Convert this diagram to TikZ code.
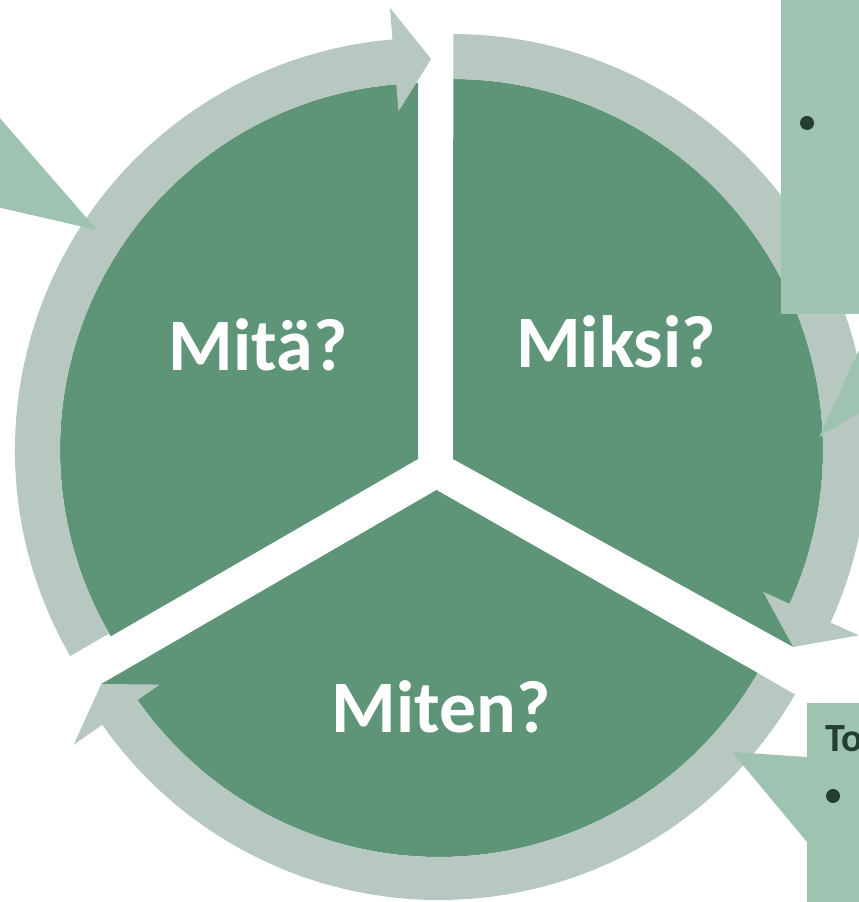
\documentclass[tikz,border=0pt]{standalone}
\usepackage{xcolor}
\usepackage{fontspec}
\setmainfont{Carlito}
\usepackage{tikz}
\usetikzlibrary{calc}

\definecolor{piegreen}{RGB}{94,149,121}
\definecolor{ringgrey}{RGB}{182,200,191}
\definecolor{calloutgreen}{RGB}{159,195,177}
\definecolor{inkdark}{RGB}{36,62,48}

\begin{document}
\begin{tikzpicture}[x=1pt, y=1pt,
  pie/.style={fill=piegreen},
  ring/.style={fill=ringgrey},
  callout/.style={fill=calloutgreen},
  piefont/.style={font=\fontsize{74}{80}\selectfont\bfseries, text=white, inner sep=0pt, anchor=base},
  bulletdot/.style={circle, fill=inkdark, inner sep=0pt, minimum size=14pt}]
  \useasboundingbox (0,0) rectangle (859,902);
  \clip (0,0) rectangle (859,902);
  \fill[pie, shift={(427,452)}] (-9,-9) -- (91.4:367) arc[start angle=91.4, end angle=210.5, radius=367] -- cycle;
  \fill[pie, shift={(452,452)}] (1,-9) -- (89.8:371) arc[start angle=89.8, end angle=-24.5, radius=371] -- (-30:394) -- cycle;
  \fill[pie, shift={(439,413)}] (-2.5,-1) -- (-30:368) arc[start angle=-30, end angle=-145, radius=368] -- (-150:390) -- cycle;
  \fill[ring, shift={(427,452)}] (210:412) arc[start angle=210, end angle=94.8, radius=412] -- (94.8:444) -- (89.4:391) -- (94.8:340) -- (94.8:367) arc[start angle=94.8, end angle=210, radius=367] -- cycle;
  \fill[ring, shift={(452,452)}] (89.8:416) arc[start angle=89.8, end angle=-24.5, radius=416] -- (-24.5:447) -- (-30:394) -- (-24.5:342) -- (-24.5:371) arc[start angle=-24.5, end angle=89.8, radius=371] -- cycle;
  \fill[ring, shift={(439,413)}] (-30:411) arc[start angle=-30, end angle=-145, radius=411] -- (-145:446) -- (-150:390) -- (-145:341) -- (-145:368) arc[start angle=-145, end angle=-30, radius=368] -- cycle;
  \node[piefont] (mita) at (258,531) {Mitä?};
  \node[piefont] (miksi) at (616,534) {Miksi?};
  \node[piefont] (miten) at (441,169) {Miten?};
  \fill[callout] (-60,853) -- (97,672) -- (-60,708) -- cycle;
  \fill[callout] (781,588) rectangle (900,920);
  \fill[callout] (900,641) -- (819,465) -- (900,514) -- cycle;
  \node[bulletdot] (dotwhy) at (807,779) {};
  \fill[callout] (807,-10) rectangle (900,199);
  \fill[callout] (807,145) -- (732,150) -- (807,60) -- cycle;
  \node[font=\fontsize{40}{44}\selectfont\bfseries, text=inkdark, inner sep=0pt, anchor=base west] (tohead) at (825,150) {To};
  \node[bulletdot] (dothow) at (833,106) {};
\end{tikzpicture}
\end{document}
